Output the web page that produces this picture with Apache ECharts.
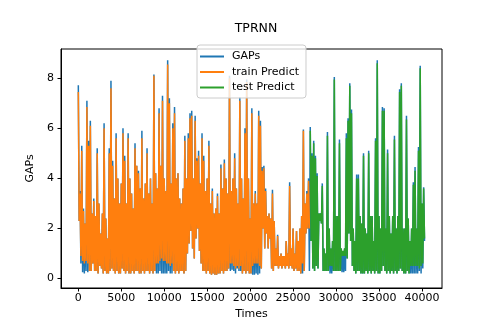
<!DOCTYPE html>
<html lang="en">
<head>
<meta charset="UTF-8" />
<title>TPRNN</title>
<script src="https://cdn.jsdelivr.net/npm/echarts@6/dist/echarts.min.js"></script>
<style>
  * { margin: 0; padding: 0; }
  html, body { width: 491px; height: 327px; background: #fff; }
</style>
</head>
<body>
<div id="main" style="width:491px;height:327px;"></div>
<script type="text/javascript">
// the raw series has ~40000 samples; here each bin of BIN time units keeps
// its highest and lowest value
var BIN = 200;

// actual gaps, bins from t = 0
var gapsHigh = [
  7.72, 3.5, 5.3, 2.8, 2.2, 7.1, 5.5, 6.3, 2.6, 3.2,
  2.5, 5.2, 3.0, 1.8, 2.6, 6.2, 2.4, 1.6, 5.2, 7.9,
  4.7, 3.2, 5.8, 4.0, 3.0, 3.8, 6.0, 4.9, 3.0, 5.8,
  4.0, 3.4, 2.8, 5.4, 4.5, 4.3, 3.6, 5.9, 3.2, 3.8,
  5.2, 3.4, 4.0, 3.0, 8.15, 4.2, 3.6, 6.8, 4.5, 7.3,
  4.0, 3.5, 8.72, 7.2, 3.8, 6.2, 6.85, 4.0, 4.2, 3.2,
  3.0, 3.6, 5.7, 4.0, 5.8, 6.6, 6.7, 4.0, 6.5, 4.8,
  5.1, 3.8, 5.8, 4.9, 3.5, 4.0, 5.5, 3.0, 3.6, 2.6,
  2.8, 3.4, 2.6, 4.55, 3.6, 4.75, 4.0, 3.4, 8.1, 3.5,
  4.0, 5.0, 3.6, 3.0, 7.25, 4.0, 3.2, 6.0, 7.95, 4.0,
  2.4, 6.8, 3.0, 3.5, 3.0, 6.7, 6.3, 4.45, 4.5, 3.6,
  2.5, 2.6, 2.4, 3.55, 2.3, 1.2, 1.75, 0.9, 1.0, 0.9,
  0.9, 1.5, 1.0, 3.85, 1.2, 2.0, 1.0, 1.9, 1.5, 2.0,
  2.5, 5.95, 3.0, 3.5, 4.0,
  6.05, 5.0, 5.5, 4.9, 4.2, 2.6, 2.6, 3.8, 1.2, 1.0,
  5.85, 2.0, 1.2, 1.5, 8.05, 2.5, 2.5, 5.55, 1.2, 1.0,
  1.2, 5.8, 6.4, 7.8, 6.75, 2.0, 1.5, 4.15, 4.15, 2.5,
  2.2, 5.0, 2.0, 1.8, 5.1, 2.5, 2.5, 1.5, 5.6, 8.72,
  2.5, 2.0, 6.85, 6.8, 2.0, 5.15, 2.5, 1.8, 2.5, 5.7,
  2.0, 2.5, 7.56, 7.8, 2.0, 2.0, 6.5, 2.4, 1.5, 2.0,
  3.85, 4.45, 2.0, 5.25, 8.5, 3.0, 3.65
];
var gapsLow = [
  2.3, 0.6, 0.25, 0.2, 0.3, 0.25, 0.3, 0.3, 0.6, 0.3,
  0.3, 0.2, 0.5, 0.4, 0.2, 0.3, 0.2, 0.2, 0.3, 0.4,
  0.3, 0.2, 0.3, 0.2, 0.2, 0.4, 0.3, 0.2, 0.3, 0.2,
  0.2, 0.3, 0.2, 0.3, 0.3, 0.2, 0.2, 0.3, 0.2, 0.3,
  0.3, 0.2, 0.3, 0.2, 0.3, 0.2, 0.2, 0.3, 0.2, 0.2,
  0.2, 0.2, 0.3, 0.2, 0.2, 0.3, 0.2, 0.3, 0.2, 0.3,
  0.3, 0.2, 0.3, 1.0, 1.4, 1.9, 1.2, 0.8, 1.6, 2.0,
  1.1, 0.6, 0.3, 0.3, 0.2, 0.3, 0.2, 0.15, 0.2, 0.15,
  0.15, 0.2, 0.2, 0.3, 0.2, 0.3, 0.3, 0.4, 0.3, 0.35,
  0.3, 0.2, 0.4, 0.3, 0.3, 0.2, 0.3, 0.2, 0.3, 0.2,
  0.2, 0.15, 0.15, 0.2, 0.15, 0.2, 0.4, 2.0, 1.2, 1.8,
  1.2, 1.6, 0.4, 0.3, 0.5, 0.5, 0.4, 0.5, 0.4, 0.5,
  0.4, 0.5, 0.4, 0.5, 0.4, 0.3, 0.4, 0.3, 0.3, 0.2,
  0.2, 0.3, 1.8, 2.0, 0.3,
  1.5, 0.4, 0.3, 0.5, 0.4, 2.3, 2.2, 0.3, 0.3, 0.3,
  0.3, 0.2, 0.2, 0.3, 0.3, 0.3, 0.3, 0.3, 0.25, 0.25,
  0.3, 0.8, 1.8, 1.5, 0.5, 0.3, 0.2, 0.3, 0.3, 0.2,
  0.2, 0.2, 0.3, 0.2, 0.3, 0.2, 0.3, 0.2, 0.3, 0.2,
  0.2, 0.3, 0.5, 0.3, 0.2, 0.3, 0.2, 0.3, 0.2, 0.3,
  0.2, 0.3, 0.4, 0.3, 0.2, 0.2, 0.3, 0.2, 0.2, 0.2,
  0.2, 0.2, 0.2, 0.3, 0.2, 0.4, 1.5
];

// training prediction, bins from t = 0
var trainHigh = [
  7.45, 3.4, 5.1, 2.7, 2.2, 6.85, 5.3, 6.1, 2.6, 3.1,
  2.5, 5.0, 3.0, 1.8, 2.6, 6.0, 2.4, 1.6, 5.0, 7.6,
  4.5, 3.2, 5.6, 4.0, 3.0, 3.8, 5.8, 4.7, 3.0, 5.6,
  4.0, 3.4, 2.8, 5.2, 4.5, 4.2, 3.6, 5.6, 3.2, 3.8,
  5.0, 3.4, 4.0, 3.0, 8.1, 4.2, 3.6, 6.6, 4.5, 7.1,
  4.0, 3.5, 8.55, 7.0, 3.8, 6.0, 6.6, 4.0, 4.2, 3.2,
  3.0, 3.6, 5.5, 4.0, 5.6, 6.4, 6.5, 4.0, 6.3, 4.7,
  4.9, 3.8, 5.6, 4.7, 3.5, 4.0, 5.3, 3.0, 3.5, 2.6,
  2.8, 3.3, 2.6, 4.4, 3.6, 4.6, 4.0, 3.4, 8.0, 3.5,
  4.0, 4.8, 3.6, 3.0, 7.1, 4.0, 3.2, 5.8, 7.85, 4.0,
  2.4, 6.6, 3.0, 3.4, 3.0, 6.5, 6.1, 4.3, 4.4, 3.5,
  2.5, 2.6, 2.4, 3.4, 2.3, 1.2, 1.7, 0.9, 1.0, 0.9,
  0.9, 1.5, 1.0, 3.7, 1.2, 2.0, 1.0, 1.9, 1.5, 2.0,
  2.5, 5.9, 3.0, 3.4, 3.9
];
var trainLow = [
  2.3, 0.9, 0.7, 0.6, 0.7, 0.6, 0.3, 0.3, 0.6, 0.3,
  0.3, 0.2, 0.5, 0.4, 0.2, 0.3, 0.2, 0.2, 0.3, 0.4,
  0.3, 0.2, 0.3, 0.2, 0.2, 0.4, 0.3, 0.2, 0.3, 0.2,
  0.2, 0.3, 0.2, 0.3, 0.3, 0.2, 0.2, 0.3, 0.2, 0.3,
  0.3, 0.2, 0.3, 0.2, 0.3, 0.6, 0.6, 0.7, 0.8, 0.7,
  0.7, 0.6, 0.6, 0.5, 0.6, 0.3, 0.2, 0.3, 0.2, 0.3,
  0.3, 0.2, 0.3, 1.0, 1.4, 1.9, 1.2, 0.8, 1.6, 2.0,
  1.1, 0.6, 0.3, 0.3, 0.2, 0.3, 0.2, 0.15, 0.2, 0.15,
  0.15, 0.2, 0.2, 0.3, 0.2, 0.3, 0.3, 0.4, 0.6, 0.6,
  0.5, 0.4, 0.5, 0.4, 0.5, 0.2, 0.3, 0.2, 0.3, 0.2,
  0.2, 0.5, 0.6, 0.6, 0.6, 0.5, 0.4, 2.0, 1.2, 1.8,
  1.2, 1.6, 0.4, 0.3, 0.5, 0.5, 0.4, 0.5, 0.4, 0.5,
  0.4, 0.5, 0.4, 0.5, 0.4, 0.3, 0.4, 0.3, 0.3, 0.2,
  0.6, 0.3, 1.8, 2.0, 2.0
];

// test prediction, bins from testStart on
var testStart = 135;
var testHigh = [
  5.9, 4.9, 5.4, 4.8, 4.1, 2.6, 2.6, 3.7, 1.2, 1.0,
  5.7, 2.0, 1.2, 1.5, 7.95, 2.5, 2.5, 5.4, 1.2, 1.1,
  1.2, 5.6, 6.3, 7.7, 6.6, 2.0, 1.5, 4.0, 4.0, 2.5,
  2.2, 4.9, 2.0, 1.8, 5.0, 2.5, 2.5, 1.5, 5.5, 8.6,
  2.5, 2.0, 6.7, 6.7, 2.0, 5.0, 2.5, 1.8, 2.5, 5.55,
  2.0, 2.5, 7.45, 7.7, 2.0, 2.0, 6.35, 2.4, 1.5, 2.0,
  3.75, 4.3, 2.0, 5.1, 8.4, 3.0, 3.6
];
var testLow = [
  1.5, 0.4, 0.3, 0.5, 0.4, 2.3, 2.2, 0.3, 0.3, 0.3,
  0.3, 0.5, 0.5, 0.3, 0.3, 0.3, 0.3, 0.3, 0.9, 0.9,
  0.9, 0.8, 1.8, 1.5, 0.5, 0.3, 0.2, 0.3, 0.3, 0.2,
  0.2, 0.2, 0.3, 0.2, 0.3, 0.2, 0.3, 0.2, 0.3, 0.2,
  0.2, 0.3, 0.5, 0.3, 0.2, 0.3, 0.2, 0.3, 0.2, 0.3,
  0.2, 0.3, 0.4, 0.3, 0.2, 0.2, 0.3, 0.2, 0.5, 0.5,
  0.5, 0.5, 0.5, 0.4, 0.5, 0.6, 1.6
];

var xTicks = [0, 5000, 10000, 15000, 20000, 25000, 30000, 35000, 40000];
var yTicks = [0, 2, 4, 6, 8];

// high value at the start of a bin, low value half a bin later
function binPairs(high, low, offset) {
  var out = [];
  for (var i = 0; i < high.length; i++) {
    var t = (i + offset) * BIN;
    out.push([t, high[i]]);
    out.push([t + BIN / 2, low[i]]);
  }
  return out;
}

var FONT = "DejaVu Sans";
var myChart = echarts.init(document.getElementById("main"), null, { renderer: "canvas" });

var option = {
  animation: false,
  color: ["#1f77b4", "#ff7f0e", "#2ca02c"],
  title: {
    text: "TPRNN",
    left: 251,
    top: 17,
    textAlign: "center",
    textStyle: { fontFamily: FONT, fontSize: 12.5, fontWeight: "normal", color: "#000" }
  },
  legend: {
    orient: "vertical",
    left: 197,
    top: 45,
    data: ["GAPs", "train Predict", "test Predict"],
    icon: "rect",
    itemWidth: 24,
    itemHeight: 2,
    itemGap: 4.5,
    padding: [6, 7, 5, 3],
    backgroundColor: "rgba(255,255,255,0.8)",
    borderColor: "#cccccc",
    borderWidth: 1,
    borderRadius: 3,
    selectedMode: false,
    textStyle: { fontFamily: FONT, fontSize: 11, color: "#000", padding: [0, 0, 0, 3] }
  },
  grid: {
    left: 61,
    right: 49,
    top: 49,
    bottom: 39,
    show: true,
    borderColor: "#000",
    borderWidth: 1,
    backgroundColor: "transparent"
  },
  xAxis: {
    type: "value",
    min: -2016,
    max: 42336,
    name: "Times",
    nameLocation: "middle",
    nameGap: 19,
    nameTextStyle: { fontFamily: FONT, fontSize: 11, color: "#000" },
    axisLine: { show: true, onZero: false, lineStyle: { color: "#000", width: 1 } },
    axisTick: { show: true, length: 3.5, lineStyle: { color: "#000" }, customValues: xTicks },
    axisLabel: {
      fontFamily: FONT, fontSize: 11, color: "#000", margin: 5, customValues: xTicks,
      formatter: function (v) { return String(v); }
    },
    splitLine: { show: false }
  },
  yAxis: {
    type: "value",
    min: -0.38,
    max: 9.17,
    name: "GAPs",
    nameLocation: "middle",
    nameGap: 16,
    nameTextStyle: { fontFamily: FONT, fontSize: 11, color: "#000" },
    axisLine: { show: true, onZero: false, lineStyle: { color: "#000", width: 1 } },
    axisTick: { show: true, length: 3.5, lineStyle: { color: "#000" }, customValues: yTicks },
    axisLabel: { fontFamily: FONT, fontSize: 11, color: "#000", margin: 7, customValues: yTicks },
    splitLine: { show: false }
  },
  series: [
    {
      name: "GAPs",
      type: "line",
      data: binPairs(gapsHigh, gapsLow, 0),
      showSymbol: false,
      symbol: "none",
      lineStyle: { width: 1.5 },
      z: 1
    },
    {
      name: "train Predict",
      type: "line",
      data: binPairs(trainHigh, trainLow, 0),
      showSymbol: false,
      symbol: "none",
      lineStyle: { width: 1.5 },
      z: 2
    },
    {
      name: "test Predict",
      type: "line",
      data: binPairs(testHigh, testLow, testStart),
      showSymbol: false,
      symbol: "none",
      lineStyle: { width: 1.5 },
      z: 3
    }
  ]
};
myChart.setOption(option);
</script>
</body>
</html>
